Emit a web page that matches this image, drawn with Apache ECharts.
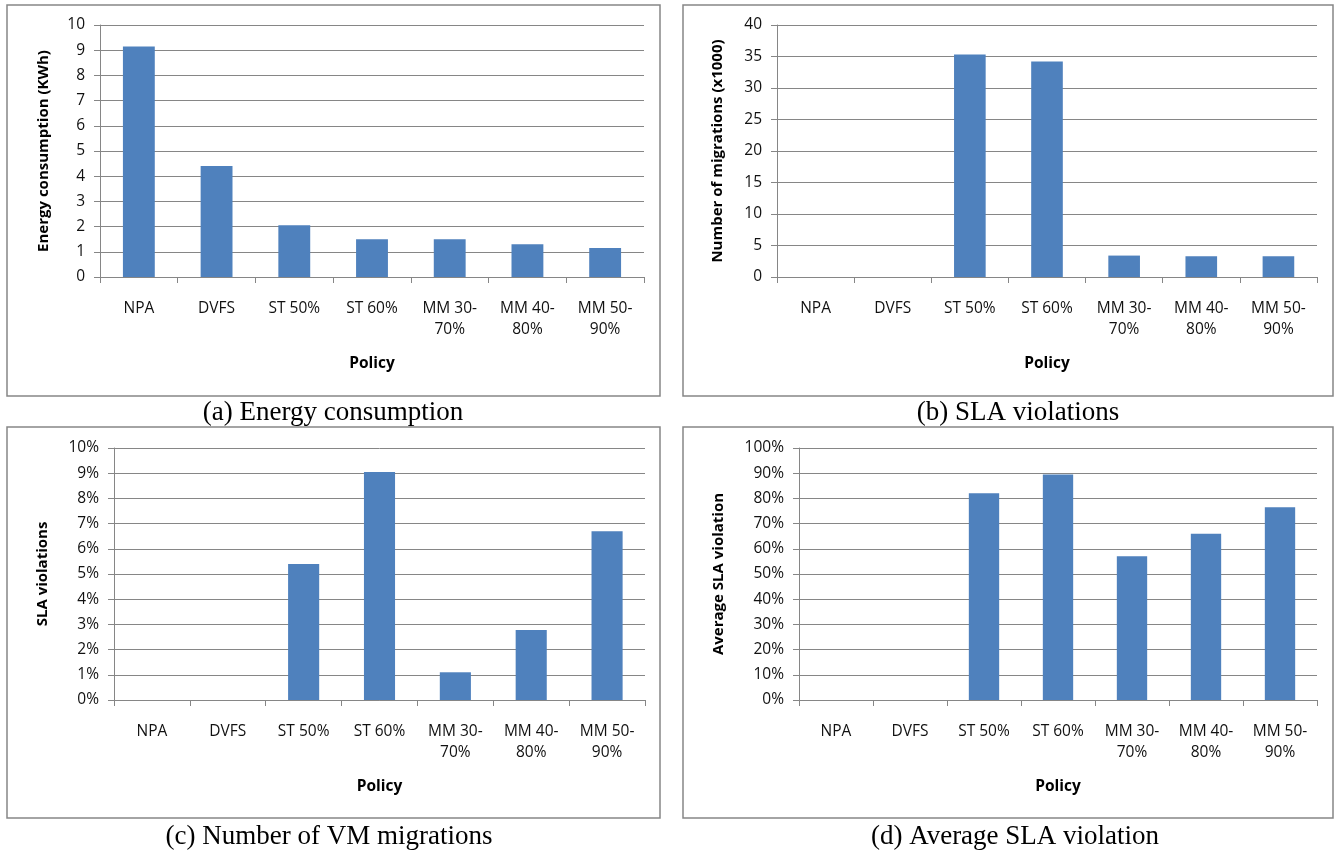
<!DOCTYPE html>
<html><head><meta charset="utf-8">
<script src="https://cdn.jsdelivr.net/npm/echarts@6/dist/echarts.min.js"></script>
<style>html,body{margin:0;padding:0;background:#fff}#c{width:1336px;height:852px}</style>
</head><body><div id="c"></div>
<script>
const categories = ['NPA', 'DVFS', 'ST 50%', 'ST 60%', 'MM 30-\n70%', 'MM 40-\n80%', 'MM 50-\n90%'];
const energyKWh = [9.15, 4.4, 2.05, 1.5, 1.5, 1.3, 1.15];
const migrationsK = [0, 0, 35.3, 34.2, 3.4, 3.3, 3.3];
const slaViolationsPct = [0, 0, 5.4, 9.05, 1.1, 2.78, 6.7];
const avgSlaViolationPct = [0, 0, 82, 89.5, 57, 66, 76.5];
const captions = ['(a) Energy consumption', '(b) SLA violations', '(c) Number of VM migrations', '(d) Average SLA violation'];
const yNames = ['Energy consumption (KWh)', 'Number of migrations (x1000)', 'SLA violations', 'Average SLA violation'];

const panels = [
  {grid:{left:100, top:25, width:544, height:252}, max:10, interval:1, fmt:'{value}', gap:49, data:energyKWh, box:[7,5,653,391], cap:[333,413]},
  {grid:{left:777, top:25, width:540, height:252}, max:40, interval:5, fmt:'{value}', gap:52, data:migrationsK, box:[683,5,650,391], cap:[1018,413]},
  {grid:{left:114, top:448, width:531, height:252}, max:10, interval:1, fmt:'{value}%', gap:64, data:slaViolationsPct, box:[7,427,653,391], cap:[329,837]},
  {grid:{left:799, top:448, width:518, height:252}, max:100, interval:10, fmt:'{value}%', gap:73, data:avgSlaViolationPct, box:[683,427,650,391], cap:[1015,837]}
];
const gray = '#868686';
const font = 'Open Sans';
const option = {
  animation:false,
  grid: panels.map(p=>p.grid),
  xAxis: panels.map((p,i)=>({
    type:'category', gridIndex:i, data:categories,
    name:'Policy', nameLocation:'middle', nameGap:79,
    nameTextStyle:{fontFamily:font, fontWeight:'bold', fontSize:15.5, color:'#000'},
    axisLine:{lineStyle:{color:gray, width:1}},
    axisTick:{show:true, length:6, lineStyle:{color:gray}},
    axisLabel:{interval:0, margin:21, fontFamily:font, fontSize:15.5, color:'#111', lineHeight:21}
  })),
  yAxis: panels.map((p,i)=>({
    type:'value', gridIndex:i, min:0, max:p.max, interval:p.interval,
    name:yNames[i], nameLocation:'middle', nameGap:p.gap,
    nameTextStyle:{fontFamily:font, fontWeight:'bold', fontSize:15, color:'#000'},
    axisLine:{show:true, lineStyle:{color:gray, width:1}},
    axisTick:{show:true, length:6, lineStyle:{color:gray}},
    splitLine:{show:true, lineStyle:{color:gray, width:1}},
    axisLabel:{formatter:p.fmt, margin:15, fontFamily:font, fontSize:15.5, color:'#111'}
  })),
  series: panels.map((p,i)=>({
    type:'bar', xAxisIndex:i, yAxisIndex:i, data:p.data,
    barCategoryGap:'59%', itemStyle:{color:'#4F81BD'}
  })),
  graphic: panels.flatMap((p,i)=>[
    {type:'rect', shape:{x:p.box[0], y:p.box[1], width:p.box[2], height:p.box[3]}, style:{fill:null, stroke:gray, lineWidth:1.5}, z:-1},
    {type:'text', x:p.cap[0], y:p.cap[1], style:{text:captions[i], font:'27px "Liberation Serif"', fill:'#000', textAlign:'center', textVerticalAlign:'middle'}}
  ])
};
echarts.init(document.getElementById('c')).setOption(option);
</script></body></html>
